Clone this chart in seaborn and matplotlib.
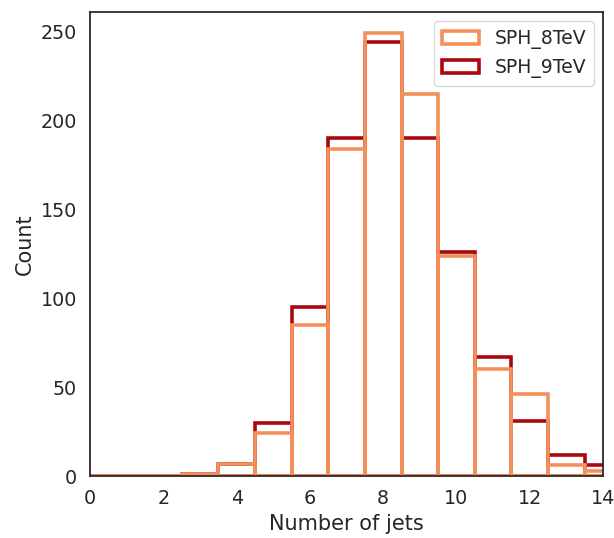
import numpy as np
import pandas as pd
import matplotlib
matplotlib.use("Agg")
import matplotlib.pyplot as plt
import seaborn as sns

jets = list(range(0, 15))
sph_8tev = [0, 0, 0, 1, 7, 24, 85, 184, 249, 215, 124, 60, 46, 6, 3]
sph_9tev = [0, 0, 0, 1, 7, 30, 95, 190, 244, 190, 126, 67, 31, 12, 6]
labels = ["SPH_8TeV", "SPH_9TeV"]
colors = ["#f4905c", "#a8080e"]

df = pd.DataFrame({
    "Number of jets": jets * 2,
    "Count": sph_8tev + sph_9tev,
    "sample": [labels[0]] * len(jets) + [labels[1]] * len(jets),
})

sns.set_theme(style="white", font_scale=1.25)
plt.rcParams['font.family'] = ['DejaVu Sans']
plt.rcParams['legend.fontsize'] = 13.5

fig, ax = plt.subplots(figsize=(6.14, 5.38), dpi=100)
sns.histplot(data=df, x="Number of jets", weights="Count", hue="sample",
             hue_order=labels, palette=colors, discrete=True,
             element="bars", fill=False, linewidth=2.6, ax=ax)
ax.set_xlim(0, 14)
ax.set_ylim(0, 261)
ax.set_ylabel("Count")
for s in ax.spines.values():
    s.set_color("#222222")
sns.move_legend(ax, "upper right", title=None)
fig.subplots_adjust(left=0.147, right=0.982, top=0.978, bottom=0.115)
fig.savefig("out.png", dpi=100)
